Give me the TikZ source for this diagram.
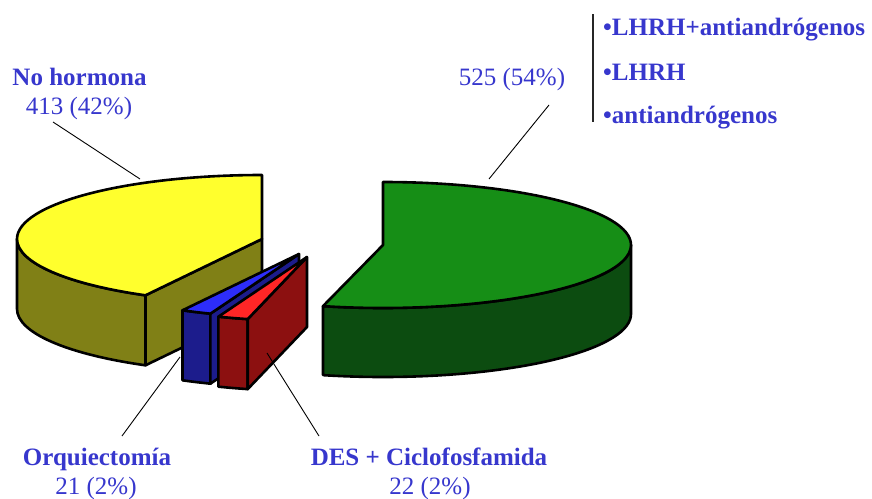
\documentclass[tikz,border=0pt]{standalone}
\usepackage{fontspec}
\setmainfont{Liberation Serif}
\usetikzlibrary{calc}
\definecolor{txtblue}{RGB}{55,55,205}
\definecolor{yeltop}{RGB}{255,255,45}
\definecolor{yelside}{RGB}{128,128,22}
\definecolor{grntop}{RGB}{22,142,22}
\definecolor{grnside}{RGB}{12,76,16}
\definecolor{blutop}{RGB}{45,45,250}
\definecolor{bluside}{RGB}{28,28,140}
\definecolor{redtop}{RGB}{255,38,38}
\definecolor{redside}{RGB}{140,16,16}
\begin{document}
\begin{tikzpicture}[x=1pt,y=-1pt,
  edge/.style={draw=black,line width=2.6pt,line join=round},
  lead/.style={draw=black,line width=0.9pt},
  lbl/.style={text=txtblue,inner sep=0pt,anchor=base,font=\fontsize{25}{30}\selectfont},
  lblb/.style={text=txtblue,inner sep=0pt,anchor=base,font=\fontsize{25}{30}\selectfont\bfseries},
  lst/.style={text=txtblue,inner sep=0pt,anchor=base west,font=\fontsize{25}{30}\selectfont\bfseries}]
\useasboundingbox (0,0) rectangle (872,498);

% ---------- yellow slice (No hormona)
\coordinate (Cy) at (262,239);
\filldraw[edge,fill=yelside] ($(Cy)+(180:245 and 64)$) arc[start angle=180,end angle=118.4,x radius=245,y radius=64] -- ++(0,70) arc[start angle=118.4,end angle=180,x radius=245,y radius=64] -- cycle;
\filldraw[edge,fill=yelside] (Cy) -- ($(Cy)+(118.4:245 and 64)$) -- ++(0,70) -- ($(Cy)+(0,70)$) -- cycle;
\filldraw[edge,fill=yeltop] (Cy) -- ($(Cy)+(270:245 and 64)$) arc[start angle=270,end angle=118.4,x radius=245,y radius=64] -- cycle;

% ---------- blue slice (Orquiectomia)
\coordinate (Cb) at (299,254);
\filldraw[edge,fill=bluside] ($(Cb)+(118.4:245 and 64)$) arc[start angle=118.4,end angle=111.2,x radius=245,y radius=64] -- ++(0,70) arc[start angle=111.2,end angle=118.4,x radius=245,y radius=64] -- cycle;
\filldraw[edge,fill=bluside] (Cb) -- ($(Cb)+(111.2:245 and 64)$) -- ++(0,70) -- ($(Cb)+(0,70)$) -- cycle;
\filldraw[edge,fill=blutop] (Cb) -- ($(Cb)+(118.4:245 and 64)$) arc[start angle=118.4,end angle=111.2,x radius=245,y radius=64] -- cycle;

% ---------- red slice (DES + Ciclofosfamida)
\coordinate (Cr) at (307,257);
\filldraw[edge,fill=redside] ($(Cr)+(111.2:245 and 64)$) arc[start angle=111.2,end angle=104,x radius=245,y radius=64] -- ++(0,70) arc[start angle=104,end angle=111.2,x radius=245,y radius=64] -- cycle;
\filldraw[edge,fill=redside] (Cr) -- ($(Cr)+(104:245 and 64)$) -- ++(0,70) -- ($(Cr)+(0,70)$) -- cycle;
\filldraw[edge,fill=redtop] (Cr) -- ($(Cr)+(111.2:245 and 64)$) arc[start angle=111.2,end angle=104,x radius=245,y radius=64] -- cycle;

% ---------- green slice (hormonal)
\coordinate (Cg) at (383,245);
\filldraw[edge,fill=grnside] ($(Cg)+(0:248 and 63)$) arc[start angle=0,end angle=104,x radius=248,y radius=63] -- ++(0,69) arc[start angle=104,end angle=0,x radius=248,y radius=63] -- cycle;
\filldraw[edge,fill=grntop] (Cg) -- ($(Cg)+(-90:248 and 63)$) arc[start angle=-90,end angle=104,x radius=248,y radius=63] -- cycle;

% ---------- labels
\node[lblb] (nh) at (79.5,85) {No hormona};
\node[lbl] (nhv) at (79,114) {413 (42\%)};
\node[lbl] (gv) at (512,85) {525 (54\%)};
\node[lblb] (orq) at (97,465) {Orquiectomía};
\node[lbl] (orqv) at (96,494) {21 (2\%)};
\node[lblb] (des) at (429,465) {DES + Ciclofosfamida};
\node[lbl] (desv) at (430,494) {22 (2\%)};
\node[lst] (l1) at (603,35) {•LHRH+antiandrógenos};
\node[lst] (l2) at (603,80) {•LHRH};
\node[lst] (l3) at (603,123) {•antiandrógenos};

% ---------- leader lines
\coordinate (ya) at (53,122);
\coordinate (yb) at (140,179);
\coordinate (ga) at (549,105);
\coordinate (gb) at (489,179);
\coordinate (oa) at (122,436);
\coordinate (ob) at (180,357);
\coordinate (da) at (319,436);
\coordinate (db) at (267,353);
\draw[lead] (ya) -- (yb);
\draw[lead] (ga) -- (gb);
\draw[lead] (oa) -- (ob);
\draw[lead] (da) -- (db);

% ---------- list bar
\coordinate (va) at (593,14);
\coordinate (vb) at (593,122);
\draw[draw=black!85,line width=1.3pt] (va) -- (vb);
\end{tikzpicture}
\end{document}
